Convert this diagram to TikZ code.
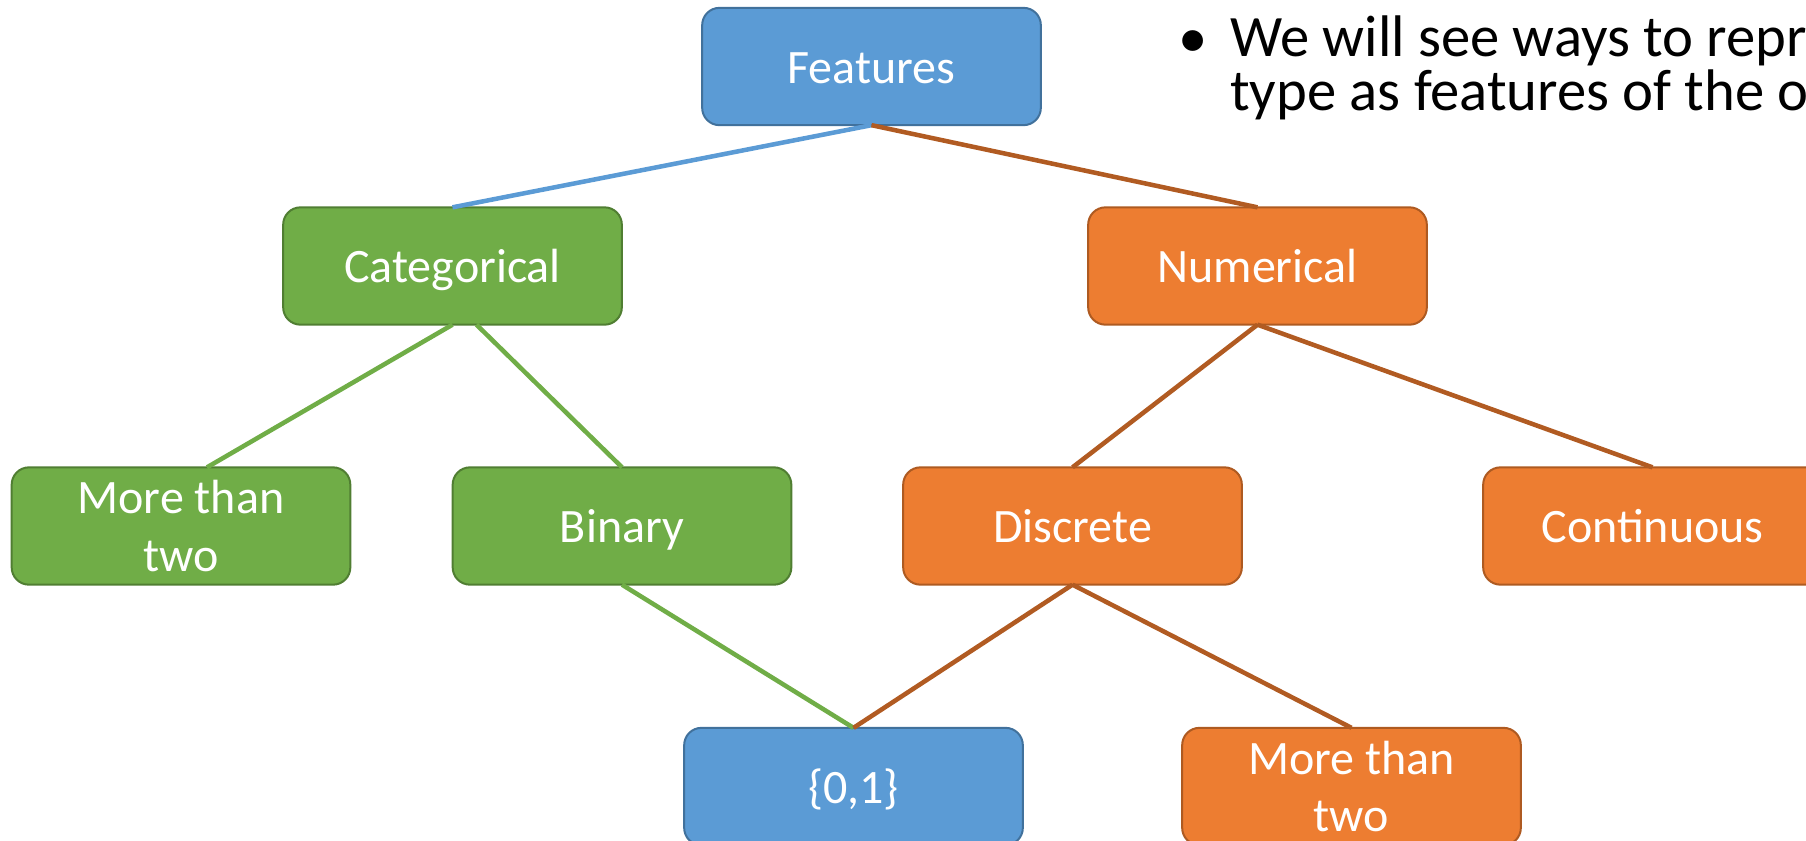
\documentclass[tikz,border=0pt]{standalone}
\usepackage{fontspec}
\setmainfont{Carlito}
\usetikzlibrary{positioning}

\definecolor{boxblue}{HTML}{5B9BD5}
\definecolor{boxblueline}{HTML}{41719C}
\definecolor{boxgreen}{HTML}{70AD47}
\definecolor{boxgreenline}{HTML}{507E32}
\definecolor{boxorange}{HTML}{ED7D31}
\definecolor{boxorangeline}{HTML}{AE5A21}
\definecolor{linkbrown}{HTML}{B15B22}

\tikzset{
  box/.style={rectangle, rounded corners=13pt, minimum width=254pt,
    minimum height=88pt, line width=1.5pt, text=white, align=center,
    outer sep=0pt, font=\fontsize{36}{43}\selectfont},
  oneline/.style={text height=34pt, text depth=9.2pt},
  bluebox/.style={box, fill=boxblue, draw=boxblueline},
  greenbox/.style={box, fill=boxgreen, draw=boxgreenline},
  orangebox/.style={box, fill=boxorange, draw=boxorangeline},
  link/.style={line width=3.4pt},
  bullettext/.style={inner sep=0pt, align=left, font=\fontsize{44}{40}\selectfont}
}

\begin{document}
\begin{tikzpicture}[x=0.75pt,y=-0.75pt]
  \useasboundingbox (0,0) rectangle (1806,840);

  % boxes
  \node[bluebox, oneline] (feat) at (871.5,66.5) {Features};
  \node[greenbox, oneline] (categ) at (452.5,266) {Categorical};
  \node[orangebox, oneline] (numer) at (1257.5,266) {Numerical};
  \node[greenbox] (more1) at (181,526) {More than\\two};
  \node[greenbox, oneline] (binary) at (622,526) {Binary};
  \node[orangebox, oneline] (discrete) at (1072.5,526) {Discrete};
  \node[orangebox, oneline] (contin) at (1652.5,526) {Continuous};
  \node[bluebox, oneline] (zeroone) at (853.5,786.5) {\{0,1\}};
  \node[orangebox] (more2) at (1351.5,786.5) {More than\\two};

  % connectors
  \draw[link, boxblue] (feat.south) -- (categ.north);
  \draw[link, linkbrown] (feat.south) -- (numer.north);
  \draw[link, boxgreen] (categ.south) -- ([xshift=19.5pt]more1.north);
  \draw[link, boxgreen] ([xshift=18pt]categ.south) -- (binary.north);
  \draw[link, linkbrown] (numer.south) -- (discrete.north);
  \draw[link, linkbrown] (numer.south) -- (contin.north);
  \draw[link, boxgreen] (binary.south) -- (zeroone.north);
  \draw[link, linkbrown] (discrete.south) -- (zeroone.north);
  \draw[link, linkbrown] (discrete.south) -- (more2.north);

  % bullet text (base is the last line)
  \node[bullettext, anchor=base west] (note) at (1230,110)
    {We will see ways to repr\\type as features of the o};
  \node[bullettext, anchor=base] (bul) at (1193,57) {\textbullet};
\end{tikzpicture}
\end{document}
